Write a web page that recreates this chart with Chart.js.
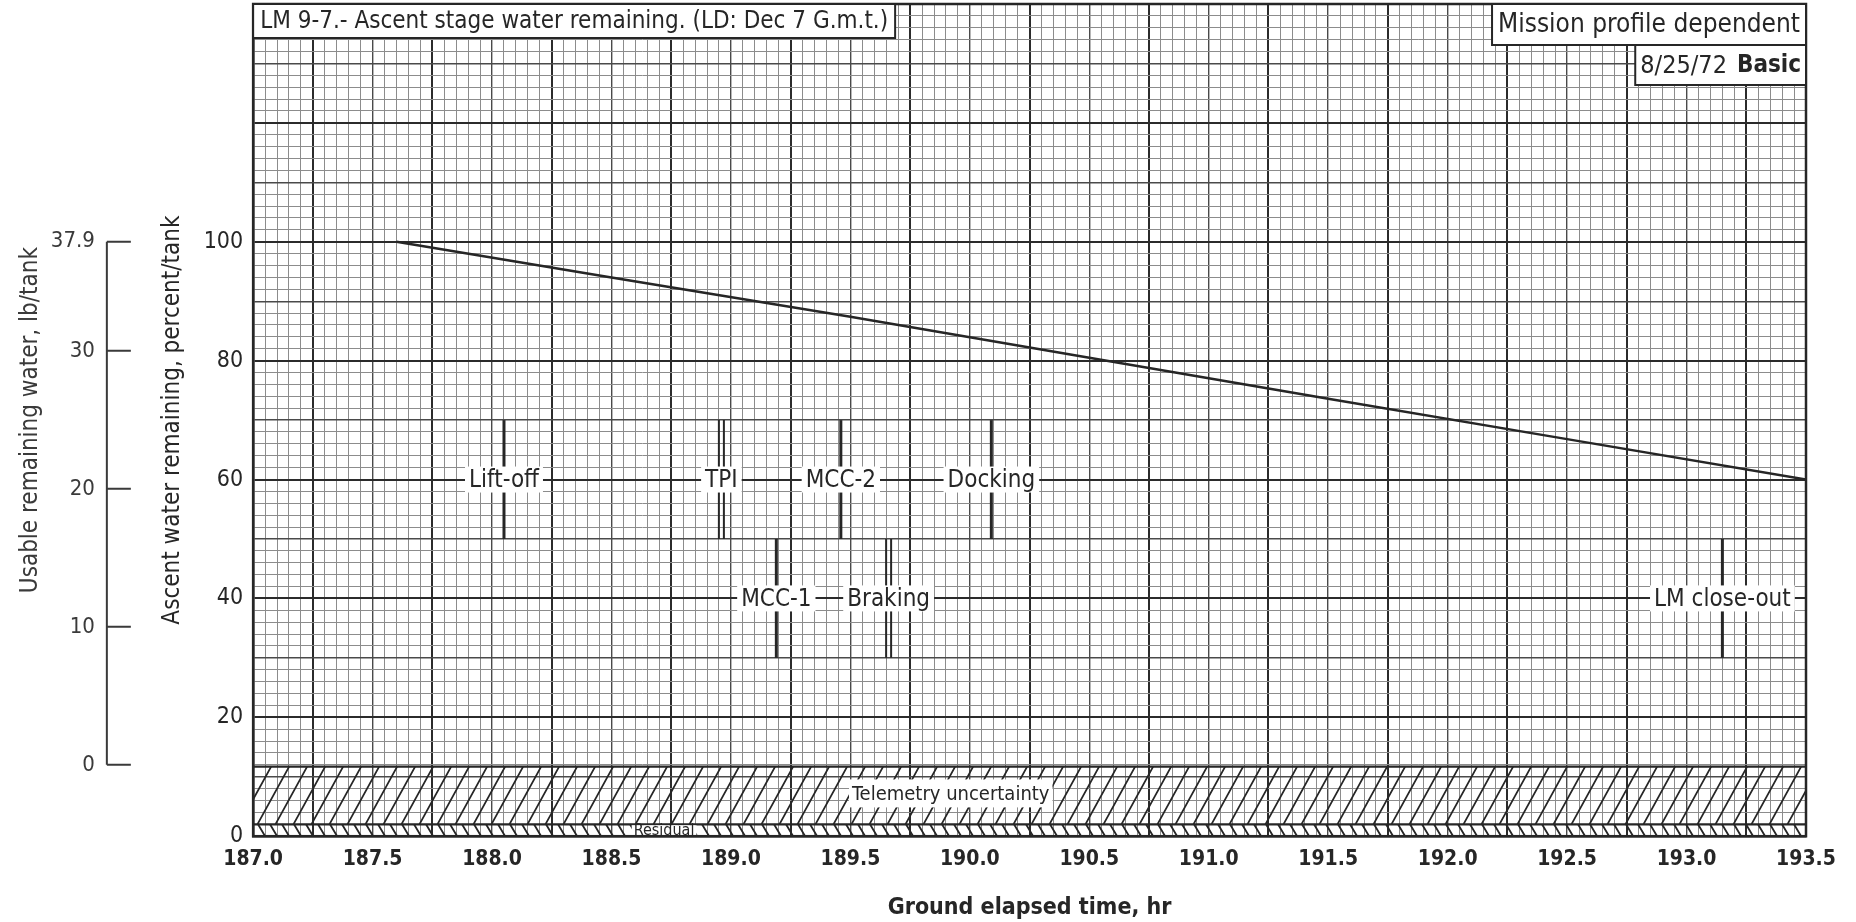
<!DOCTYPE html>
<html>
<head>
<meta charset="utf-8">
<script src="https://cdn.jsdelivr.net/npm/chart.js@4.4.1/dist/chart.umd.min.js"></script>
<style>
  html, body { margin: 0; padding: 0; background: #fff; }
  #wrap { width: 1856px; height: 922px; }
</style>
</head>
<body>
<div id="wrap"><canvas id="waterChart"></canvas></div>
<script>
// LM 9-7 ascent stage water remaining, percent per tank vs ground elapsed time
const lineHours  = [187.6, 188.5, 189.5, 190.5, 191.5, 192.5, 193.5];
const lineValues = [100, 94.0, 87.4, 80.5, 73.6, 66.8, 60];

// mission events: time (hr), marker span (percent), label height (percent)
const eventNames  = ['Lift-off', 'TPI', 'MCC-2', 'Docking', 'MCC-1', 'Braking', 'LM close-out'];
const eventHours  = [188.05, 188.96, 189.46, 190.09, 189.19, 189.66, 193.15];
const eventLow    = [50, 50, 50, 50, 30, 30, 30];
const eventHigh   = [70, 70, 70, 70, 50, 50, 50];
const eventLabelY = [60, 60, 60, 60, 40, 40, 40];

// hatched bands at the bottom (percent)
const telemetryBand = [2, 11.7];
const residualBand  = [0, 2];

// axes
const xMin = 187.0, xMax = 193.5;
const yMin = 0, yMax = 140;
const percentLabelMax = 100;
const poundTicks = [0, 10, 20, 30, 37.9];
const fullTankLb = 37.9;   // lb at 100 percent
const zeroLbPct = 12;      // percent where usable water reaches 0 lb

const FONT = "'Liberation Sans Narrow', 'DejaVu Sans Condensed', 'Roboto Condensed', 'Liberation Sans', sans-serif";
const INK = '#262626';

const pctToLb = p => (p - zeroLbPct) * fullTankLb / (100 - zeroLbPct);

// grid line weight by position on the graph paper
function xGrid(v) {
  const k = Math.round(v * 20) % 10;
  if (k === 5) return 'major';
  if (k === 0) return 'mid';
  return 'minor';
}
function yGrid(v) {
  const k = Math.round(v);
  if (k % 20 === 0) return 'major';
  if (k % 10 === 0) return 'mid';
  return 'minor';
}
const gridColor = { major: '#2b2b2b', mid: '#4a4a4a', minor: '#8c8c8c' };
const gridWidth = { major: 2, mid: 1.4, minor: 1 };

// vertical axes should not push the plot down from the top edge
const noPad = s => { s.paddingTop = 0; s.paddingBottom = 0; };

function hatch(ctx, left, right, top, bottom, spacing, slant, dir) {
  const dx = (bottom - top) * slant;
  ctx.beginPath();
  for (let x0 = left - dx - spacing; x0 < right + spacing; x0 += spacing) {
    if (dir > 0) { ctx.moveTo(x0, bottom); ctx.lineTo(x0 + dx, top); }
    else { ctx.moveTo(x0, top); ctx.lineTo(x0 + dx, bottom); }
  }
  ctx.stroke();
}

function tag(ctx, text, cx, cy, size, padX, padY) {
  ctx.font = size + 'px ' + FONT;
  const w = ctx.measureText(text).width;
  ctx.fillStyle = '#fff';
  ctx.fillRect(cx - w / 2 - padX, cy - size / 2 - padY, w + padX * 2, size + padY * 2);
  ctx.fillStyle = INK;
  ctx.textAlign = 'center';
  ctx.textBaseline = 'middle';
  ctx.fillText(text, cx, cy + 1);
}

const overlay = {
  id: 'overlay',
  beforeDatasetsDraw(chart) {
    const { ctx, chartArea: a, scales: { x, y } } = chart;
    ctx.save();
    ctx.beginPath();
    ctx.rect(a.left, a.top, a.width, a.height);
    ctx.clip();
    ctx.strokeStyle = INK;
    ctx.lineWidth = 1.8;
    hatch(ctx, a.left, a.right, y.getPixelForValue(telemetryBand[1]), y.getPixelForValue(telemetryBand[0]), 18, 0.55, 1);
    hatch(ctx, a.left, a.right, y.getPixelForValue(residualBand[1]), y.getPixelForValue(residualBand[0]), 12, 0.6, -1);
    ctx.lineWidth = 2.2;
    ctx.beginPath();
    [telemetryBand[1], residualBand[1]].forEach(v => {
      const py = y.getPixelForValue(v);
      ctx.moveTo(a.left, py); ctx.lineTo(a.right, py);
    });
    ctx.stroke();
    ctx.restore();
    ctx.save();
    tag(ctx, 'Telemetry uncertainty', x.getPixelForValue(189.92), y.getPixelForValue(7.2), 20, 3, 4);
    tag(ctx, 'Residual', x.getPixelForValue(188.72), y.getPixelForValue(1.0), 16, 2, -3);
    ctx.restore();
  },
  afterDatasetsDraw(chart) {
    const { ctx, chartArea: a, scales: { x, y } } = chart;
    ctx.save();
    // frame of the graph paper
    ctx.strokeStyle = INK;
    ctx.lineWidth = 2.5;
    ctx.strokeRect(a.left, a.top, a.width, a.height);

    // event markers
    eventNames.forEach((name, i) => {
      const px = x.getPixelForValue(eventHours[i]);
      const y0 = y.getPixelForValue(eventLow[i]);
      const y1 = y.getPixelForValue(eventHigh[i]);
      const doubled = name === 'TPI' || name === 'Braking';
      ctx.lineWidth = doubled ? 2 : 3;
      ctx.beginPath();
      (doubled ? [-2.5, 2.5] : [0]).forEach(off => {
        ctx.moveTo(px + off, y0); ctx.lineTo(px + off, y1);
      });
      ctx.stroke();
    });
    eventNames.forEach((name, i) => {
      tag(ctx, name, x.getPixelForValue(eventHours[i]), y.getPixelForValue(eventLabelY[i]), 24, 4, 1);
    });

    // caption boxes
    ctx.font = '24px ' + FONT;
    ctx.lineWidth = 2;
    const cap = 'LM 9-7.- Ascent stage water remaining. (LD: Dec 7 G.m.t.)';
    const cw = ctx.measureText(cap).width + 14;
    ctx.fillStyle = '#fff';
    ctx.fillRect(a.left, a.top, cw, 34);
    ctx.strokeRect(a.left, a.top, cw, 34);
    ctx.fillStyle = INK;
    ctx.textAlign = 'left';
    ctx.textBaseline = 'middle';
    ctx.fillText(cap, a.left + 7, a.top + 18);

    ctx.font = '26px ' + FONT;
    const mission = 'Mission profile dependent';
    const mw = ctx.measureText(mission).width + 12;
    ctx.fillStyle = '#fff';
    ctx.fillRect(a.right - mw, a.top, mw, 41);
    ctx.strokeRect(a.right - mw, a.top, mw, 41);
    ctx.fillStyle = INK;
    ctx.textAlign = 'right';
    ctx.fillText(mission, a.right - 6, a.top + 21);

    ctx.font = '25px ' + FONT;
    const dw = ctx.measureText('8/25/72').width;
    ctx.font = 'bold 24px ' + FONT;
    const bw = dw + ctx.measureText('Basic').width + 20;
    ctx.fillStyle = '#fff';
    ctx.fillRect(a.right - bw, a.top + 41, bw, 40);
    ctx.strokeRect(a.right - bw, a.top + 41, bw, 40);
    ctx.fillStyle = INK;
    ctx.textAlign = 'right';
    ctx.fillText('Basic', a.right - 5, a.top + 62);
    ctx.font = '25px ' + FONT;
    ctx.textAlign = 'left';
    ctx.fillText('8/25/72', a.right - bw + 5, a.top + 62);

    // bracket of the lb/tank scale
    const s = chart.scales.y2;
    const bx = s.right - 36;
    ctx.strokeStyle = '#3a3a3a';
    ctx.lineWidth = 2;
    ctx.beginPath();
    ctx.moveTo(bx, s.getPixelForValue(0));
    ctx.lineTo(bx, s.getPixelForValue(fullTankLb));
    poundTicks.forEach(v => {
      const py = s.getPixelForValue(v);
      ctx.moveTo(bx, py); ctx.lineTo(bx + 24, py);
    });
    ctx.stroke();
    ctx.restore();
  }
};

new Chart(document.getElementById('waterChart'), {
  type: 'line',
  data: {
    datasets: [{
      label: 'Ascent water remaining',
      data: lineHours.map((h, i) => ({ x: h, y: lineValues[i] })),
      borderColor: INK,
      borderWidth: 2.5,
      pointRadius: 0,
      tension: 0,
      yAxisID: 'y'
    }]
  },
  options: {
    responsive: true,
    maintainAspectRatio: false,
    animation: false,
    layout: { padding: { left: 6, right: 50, top: 4, bottom: 0 } },
    plugins: { legend: { display: false }, tooltip: { enabled: false } },
    scales: {
      x: {
        type: 'linear',
        min: xMin,
        max: xMax,
        ticks: {
          stepSize: 0.05,
          autoSkip: false,
          maxRotation: 0,
          padding: 11,
          color: INK,
          font: { family: FONT, size: 21, weight: 'bold' },
          callback: v => (Math.round(v * 20) % 10 === 0 ? v.toFixed(1) : '')
        },
        grid: {
          drawTicks: false,
          color: c => gridColor[xGrid(c.tick.value)],
          lineWidth: c => gridWidth[xGrid(c.tick.value)]
        },
        border: { color: INK, width: 2.5 },
        title: {
          display: true,
          text: 'Ground elapsed time, hr',
          color: INK,
          font: { family: FONT, size: 23, weight: 'bold' },
          padding: { top: 11, bottom: 0 }
        }
      },
      y: {
        type: 'linear',
        position: 'left',
        min: yMin,
        max: yMax,
        weight: 0,
        afterFit: noPad,
        ticks: {
          stepSize: 2,
          autoSkip: false,
          padding: 0,
          color: INK,
          font: { family: FONT, size: 23 },
          callback: v => {
            if (v === yMax) return null;
            return v % 20 === 0 && v <= percentLabelMax ? String(v) : '';
          }
        },
        grid: {
          drawTicks: true,
          tickLength: 10,
          tickColor: 'transparent',
          color: c => gridColor[yGrid(c.tick.value)],
          lineWidth: c => gridWidth[yGrid(c.tick.value)]
        },
        border: { color: INK, width: 2.5 },
        title: {
          display: true,
          text: 'Ascent water remaining, percent/tank',
          color: INK,
          font: { family: FONT, size: 24 },
          padding: { top: 16, bottom: 16 }
        }
      },
      y2: {
        type: 'linear',
        position: 'left',
        min: pctToLb(yMin),
        max: pctToLb(yMax),
        weight: 1,
        afterFit: noPad,
        afterBuildTicks: s => {
          s.ticks = [s.min, ...poundTicks, s.max].map(v => ({ value: v }));
        },
        ticks: {
          padding: 0,
          color: '#3a3a3a',
          font: { family: FONT, size: 22 },
          callback: v => (poundTicks.includes(v) ? String(v) : null)
        },
        grid: {
          display: true,
          drawOnChartArea: false,
          drawTicks: true,
          tickLength: 48,
          color: 'transparent',
          tickColor: 'transparent'
        },
        border: { display: false },
        title: {
          display: true,
          text: 'Usable remaining water, lb/tank',
          color: '#3a3a3a',
          font: { family: FONT, size: 24 },
          padding: { top: 10, bottom: 6 }
        }
      }
    }
  },
  plugins: [overlay]
});
</script>
</body>
</html>
